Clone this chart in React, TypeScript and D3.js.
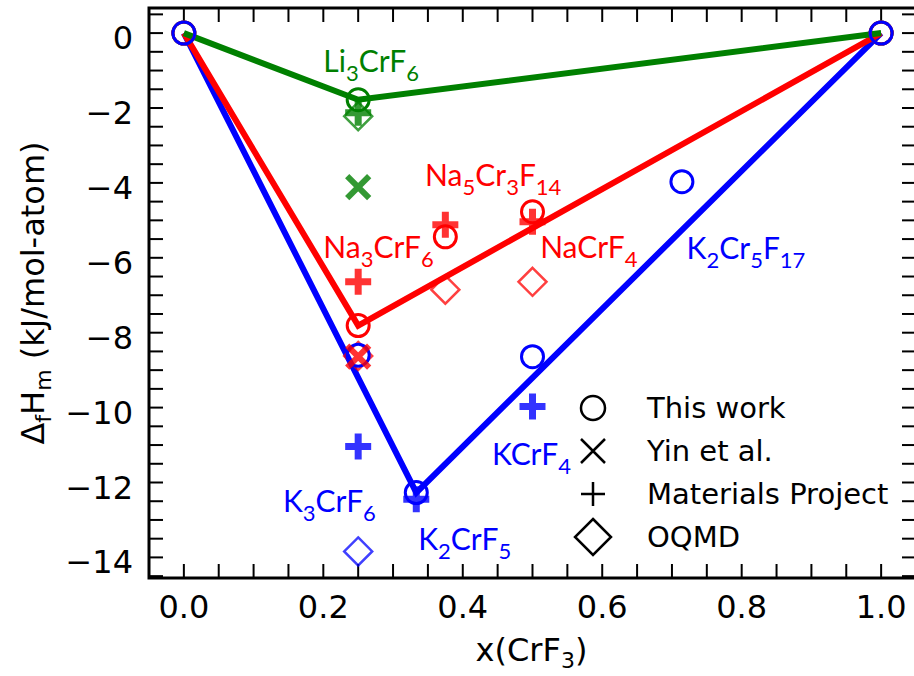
import React, { useRef, useEffect } from 'react';
import * as d3 from 'd3';

// x(CrF3) composition, formation enthalpy in kJ/mol-atom
const xTicks = [0, 0.2, 0.4, 0.6, 0.8, 1.0];
const yTicks = [0, -2, -4, -6, -8, -10, -12, -14];

// convex hull lines
const liHull = [[0, 0], [0.25, -1.78], [1, 0]];
const naHull = [[0, 0], [0.25, -7.81], [1, 0]];
const kHull = [[0, 0], [1 / 3, -12.27], [1, 0]];

// This work
const liThisWork = [[0, 0], [0.25, -1.78], [1, 0]];
const naThisWork = [[0, 0], [0.25, -7.81], [0.375, -5.44], [0.5, -4.77], [1, 0]];
const kThisWork = [[0, 0], [0.25, -8.6], [1 / 3, -12.27], [0.5, -8.64], [5 / 7, -3.97], [1, 0]];

// Yin et al.
const liYin = [[0.25, -4.11]];
const naYin = [[0.25, -8.64]];

// Materials Project
const liMP = [[0.25, -2.13]];
const naMP = [[0.25, -6.64], [0.375, -5.12], [0.5, -5.04]];
const kMP = [[0.25, -11.04], [1 / 3, -12.45], [0.5, -9.97]];

// OQMD
const liOQMD = [[0.25, -2.22]];
const naOQMD = [[0.25, -8.62], [0.375, -6.85], [0.5, -6.64]];
const kOQMD = [[0.25, -13.84]];

// compound labels: formula, x, y (data coords of text start / baseline)
const liLabels = [['Li3CrF6', 0.2, -1.05]];
const naLabels = [['Na5Cr3F14', 0.346, -4.08], ['Na3CrF6', 0.2, -6.01], ['NaCrF4', 0.511, -6.01]];
const kLabels = [['K2Cr5F17', 0.721, -6.03], ['KCrF4', 0.442, -11.53], ['K3CrF6', 0.142, -12.79], ['K2CrF5', 0.336, -13.81]];

const legendNames = ['This work', 'Yin et al.', 'Materials Project', 'OQMD'];

const GREEN = '#008000';
const RED = '#ff0000';
const BLUE = '#0000ff';
const TICK_FONT = '"DejaVu Sans", sans-serif';
const LABEL_FONT = 'Lato, "Open Sans", sans-serif';

const App = () => {
  const svgRef = useRef(null);

  useEffect(() => {
    const width = 914;
    const height = 676;
    const margin = { top: 8, right: -2, bottom: 98, left: 149 };

    const svg = d3.select(svgRef.current)
      .attr('width', width)
      .attr('height', height);
    svg.selectAll('*').remove();

    const xScale = d3.scaleLinear()
      .domain([-0.05, 1.05])
      .range([margin.left, width - margin.right]);

    const yScale = d3.scaleLinear()
      .domain([-14.55, 0.67])
      .range([height - margin.bottom, margin.top]);

    const x0 = xScale.range()[0], x1 = xScale.range()[1];
    const y0 = yScale.range()[1], y1 = yScale.range()[0];
    const tickLen = 14;

    // ticks, inward on all four sides
    const xMinor = d3.range(-0.05, 1.0501, 0.05);
    const yMinor = d3.range(-14.5, 0.501, 0.5);
    const tg = svg.append('g').attr('stroke', '#000').attr('stroke-width', 2);
    xMinor.forEach(v => {
      const px = xScale(v);
      tg.append('line').attr('x1', px).attr('x2', px).attr('y1', y1).attr('y2', y1 - tickLen);
      tg.append('line').attr('x1', px).attr('x2', px).attr('y1', y0).attr('y2', y0 + tickLen);
    });
    yMinor.forEach(v => {
      const py = yScale(v);
      tg.append('line').attr('x1', x0).attr('x2', x0 + tickLen).attr('y1', py).attr('y2', py);
      tg.append('line').attr('x1', x1).attr('x2', x1 - tickLen).attr('y1', py).attr('y2', py);
    });

    // frame
    svg.append('rect')
      .attr('x', x0).attr('y', y0)
      .attr('width', x1 - x0).attr('height', y1 - y0)
      .attr('fill', 'none').attr('stroke', '#000').attr('stroke-width', 3);

    // tick labels
    svg.append('g').selectAll('text')
      .data(xTicks).enter().append('text')
      .attr('x', d => xScale(d))
      .attr('y', y1 + 40)
      .attr('text-anchor', 'middle')
      .attr('font-family', TICK_FONT)
      .attr('font-size', 32)
      .text(d => d.toFixed(1));

    svg.append('g').selectAll('text')
      .data(yTicks).enter().append('text')
      .attr('x', x0 - 16)
      .attr('y', d => yScale(d) + 16)
      .attr('text-anchor', 'end')
      .attr('font-family', TICK_FONT)
      .attr('font-size', 32)
      .text(d => d === 0 ? '0' : '\u2212' + Math.abs(d));

    // axis titles
    const xl = svg.append('text')
      .attr('x', (x0 + 914) / 2)
      .attr('y', 661)
      .attr('text-anchor', 'middle')
      .attr('font-family', TICK_FONT)
      .attr('font-size', 32);
    xl.append('tspan').text('x(CrF');
    xl.append('tspan').attr('font-size', 22).attr('dy', 7).text('3');
    xl.append('tspan').attr('dy', -7).text(')');

    const yl = svg.append('text')
      .attr('transform', `translate(44, ${(y0 + y1) / 2}) rotate(-90)`)
      .attr('text-anchor', 'middle')
      .attr('font-family', TICK_FONT)
      .attr('font-size', 32);
    yl.append('tspan').text('\u0394');
    yl.append('tspan').attr('font-size', 22).attr('dy', 7).text('f');
    yl.append('tspan').attr('dy', -7).text('H');
    yl.append('tspan').attr('font-size', 22).attr('dy', 7).text('m');
    yl.append('tspan').attr('dy', -7).text('\u00a0(kJ/mol-atom)');

    // hull lines
    const line = d3.line().x(d => xScale(d[0])).y(d => yScale(d[1]));
    [[kHull, BLUE], [naHull, RED], [liHull, GREEN]].forEach(([data, color]) => {
      svg.append('path')
        .attr('d', line(data))
        .attr('fill', 'none')
        .attr('stroke', color)
        .attr('stroke-width', 6);
    });

    // markers
    const shapes = {
      circle: { d: d3.symbol().type(d3.symbolCircle).size(Math.PI * 11 * 11)(), sw: 3, op: 1 },
      cross: { d: 'M-11,-11L11,11M-11,11L11,-11', sw: 6, op: 0.8 },
      plus: { d: 'M-13,0H13M0,-13V13', sw: 7, op: 0.8 },
      diamond: { d: 'M0,-14L14,0L0,14L-14,0Z', sw: 2.5, op: 0.75 },
    };
    const drawMarkers = (data, shape, color) => {
      const s = shapes[shape];
      svg.append('g').selectAll('path')
        .data(data).enter().append('path')
        .attr('transform', d => `translate(${xScale(d[0])}, ${yScale(d[1])})`)
        .attr('d', s.d)
        .attr('fill', 'none')
        .attr('stroke', color)
        .attr('stroke-width', s.sw)
        .attr('opacity', s.op);
    };

    drawMarkers(liOQMD, 'diamond', GREEN);
    drawMarkers(naOQMD, 'diamond', RED);
    drawMarkers(kOQMD, 'diamond', BLUE);
    drawMarkers(liThisWork, 'circle', GREEN);
    drawMarkers(naThisWork, 'circle', RED);
    drawMarkers(kThisWork, 'circle', BLUE);
    drawMarkers(liMP, 'plus', GREEN);
    drawMarkers(naMP, 'plus', RED);
    drawMarkers(kMP, 'plus', BLUE);
    drawMarkers(liYin, 'cross', GREEN);
    drawMarkers(naYin, 'cross', RED);

    // compound labels with subscripts
    const addFormula = (f, px, py, color) => {
      const t = svg.append('text')
        .attr('x', px).attr('y', py)
        .attr('fill', color)
        .attr('font-family', LABEL_FONT)
        .attr('font-size', 30);
      let sub = false;
      f.match(/\d+|\D+/g).forEach(p => {
        const isNum = /^\d+$/.test(p);
        const ts = t.append('tspan').text(p);
        if (isNum) {
          ts.attr('font-size', 22).attr('dy', sub ? 0 : 9);
          sub = true;
        } else {
          ts.attr('dy', sub ? -9 : 0);
          sub = false;
        }
      });
    };
    [[liLabels, GREEN], [naLabels, RED], [kLabels, BLUE]].forEach(([labels, color]) => {
      labels.forEach(l => addFormula(l[0], xScale(l[1]), yScale(l[2]), color));
    });

    // legend
    const legendShapes = [
      { d: d3.symbol().type(d3.symbolCircle).size(Math.PI * 12 * 12)(), sw: 2.5 },
      { d: 'M-12,-12L12,12M-12,12L12,-12', sw: 2.5 },
      { d: 'M-12,0H12M0,-12V12', sw: 2.5 },
      { d: 'M0,-18L18,0L0,18L-18,0Z', sw: 2.5 },
    ];
    const legendY = [408, 451, 494, 537];
    legendNames.forEach((name, i) => {
      svg.append('path')
        .attr('transform', `translate(593, ${legendY[i]})`)
        .attr('d', legendShapes[i].d)
        .attr('fill', 'none')
        .attr('stroke', '#000')
        .attr('stroke-width', legendShapes[i].sw);
      svg.append('text')
        .attr('x', 647)
        .attr('y', legendY[i] + 10)
        .attr('font-family', TICK_FONT)
        .attr('font-size', 29)
        .text(name);
    });
  }, []);

  return (
    <svg ref={svgRef} style={{ position: 'absolute', left: 0, top: 0, background: '#fff' }}></svg>
  );
};

export default App;
